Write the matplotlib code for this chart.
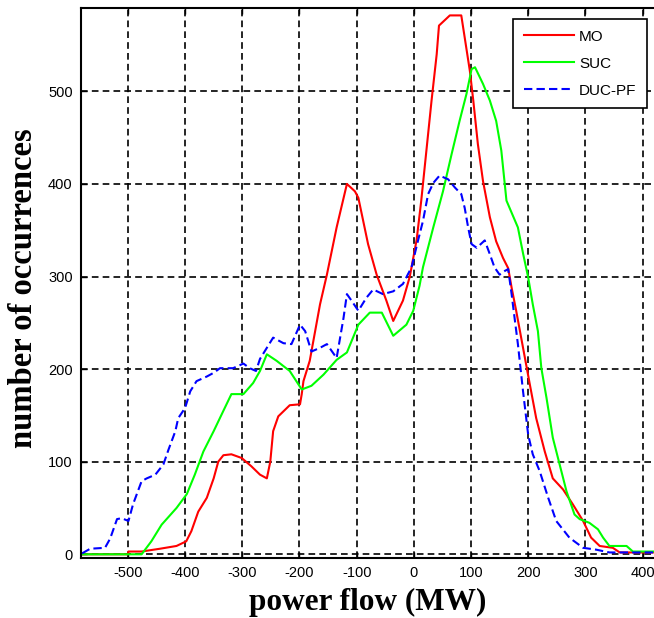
import numpy as np
import matplotlib
matplotlib.use("Agg")
import matplotlib.pyplot as plt

plt.rcParams["axes.unicode_minus"] = False  # guion simple en las etiquetas

# Curvas (flujo de potencia en MW, numero de ocurrencias)
mo_x = [-580, -500, -499, -476, -444, -415, -398, -389, -377, -362, -350, -342, -333, -319,
        -301, -284, -269, -257, -251, -246, -237, -217, -199, -196, -193, -182, -164, -152,
        -135, -117, -103, -97, -80, -65, -48, -36, -19, -7, 5, 13, 22, 31, 40, 44, 63, 83,
        89, 98, 104, 112, 121, 133, 144, 156, 165, 171, 179, 191, 203, 214, 229, 243, 261,
        278, 296, 310, 325, 348, 360, 420]
mo_y = [0, 0, 3, 3, 6, 9, 14, 25, 46, 61, 82, 100, 107, 108,
        104, 95, 86, 82, 100, 133, 149, 161, 162, 173, 187, 209, 270, 302,
        353, 400, 392, 385, 335, 302, 274, 252, 274, 300, 340, 382, 436, 490, 540, 571, 582, 582,
        558, 522, 490, 443, 403, 364, 338, 320, 309, 288, 263, 223, 183, 147, 111, 82, 70,
        54, 36, 18, 9, 7, 2, 2]

suc_x = [-580, -476, -459, -441, -415, -397, -383, -368, -350, -333, -319, -298, -281, -269,
         -257, -240, -217, -196, -179, -158, -135, -117, -97, -77, -56, -36, -13, -1, 10, 16,
         34, 51, 66, 80, 92, 101, 107, 121, 133, 144, 153, 162, 182, 191, 200, 208, 217, 223,
         232, 243, 255, 267, 281, 290, 307, 322, 331, 342, 372, 383, 420]
suc_y = [0, 0, 14, 32, 50, 65, 86, 111, 133, 155, 173, 173, 185, 198,
         216, 209, 198, 178, 182, 194, 210, 218, 248, 261, 261, 236, 248, 263, 290, 310,
         353, 392, 432, 468, 497, 524, 526, 508, 490, 468, 436, 382, 353, 325, 299, 270, 241, 201,
         169, 126, 97, 68, 43, 38, 34, 27, 18, 9, 9, 3, 3]

duc_x = [-580, -566, -540, -531, -519, -511, -499, -491, -476, -467, -452, -438, -429, -417,
         -412, -400, -391, -380, -362, -350, -339, -316, -298, -287, -276, -269, -246, -228,
         -214, -199, -190, -179, -164, -152, -135, -123, -117, -109, -97, -83, -71, -54, -36,
         -19, -4, 7, 16, 25, 34, 45, 60, 72, 83, 89, 95, 101, 110, 124, 133, 141, 150, 159,
         165, 171, 174, 182, 191, 200, 208, 220, 235, 249, 272, 296, 319, 342, 420]
duc_y = [1, 6, 7, 17, 38, 39, 36, 54, 79, 82, 86, 97, 113, 133,
         147, 158, 176, 187, 192, 196, 201, 201, 206, 201, 198, 211, 234, 228,
         227, 248, 241, 219, 223, 227, 212, 255, 281, 274, 263, 277, 286, 281, 284,
         292, 310, 338, 360, 389, 401, 409, 405, 396, 389, 374, 353, 335, 331, 339, 324, 310, 302, 306,
         308, 281, 266, 227, 176, 129, 108, 90, 61, 36, 18, 7, 5, 2, 2]

x_ticks = np.arange(-500, 401, 100)
y_ticks = np.arange(0, 501, 100)

fig = plt.figure(figsize=(6.54, 6.18), dpi=100)
ax = fig.add_axes([81 / 654, 1 - 558 / 618, 573 / 654, 550 / 618])

ax.plot(mo_x, mo_y, color="#ff0000", lw=1.5, label="MO")
ax.plot(suc_x, suc_y, color="#00ff00", lw=1.5, label="SUC")
ax.plot(duc_x, duc_y, color="#0000ff", lw=1.5, ls=(0, (4, 2)), label="DUC-PF")

ax.set_xlim(-582, 420)
ax.set_ylim(-4, 590)
ax.set_xticks(x_ticks)
ax.set_yticks(y_ticks)
ax.grid(True, color="black", lw=1.2, ls=(0, (4, 2.5)))
ax.set_axisbelow(True)

ax.tick_params(direction="in", length=4, width=1, top=True, labelsize=10.5, pad=6)
for lab in ax.get_xticklabels() + ax.get_yticklabels():
    lab.set_family("Liberation Sans")
for s in ["left", "bottom", "top"]:
    ax.spines[s].set_linewidth(1.5)
ax.spines["right"].set_visible(False)

ax.set_xlabel("power flow (MW)", family="Liberation Serif", fontweight="bold",
              fontsize=22.5, va="center")
ax.set_ylabel("number of occurrences", family="Liberation Serif", fontweight="bold",
              fontsize=23.5, va="center")
ax.xaxis.set_label_coords(0.5, -0.08)
ax.yaxis.set_label_coords(-0.0995, 0.491)

leg = ax.legend(loc="upper right", bbox_to_anchor=(0.988, 0.98), borderaxespad=0,
                fancybox=False, edgecolor="black", framealpha=1,
                handlelength=3.33, handletextpad=0.3, labelspacing=0.85, borderpad=0.7,
                prop={"family": "Liberation Sans", "size": 11})
leg.get_frame().set_linewidth(1.2)

fig.savefig("out.png", dpi=100)
